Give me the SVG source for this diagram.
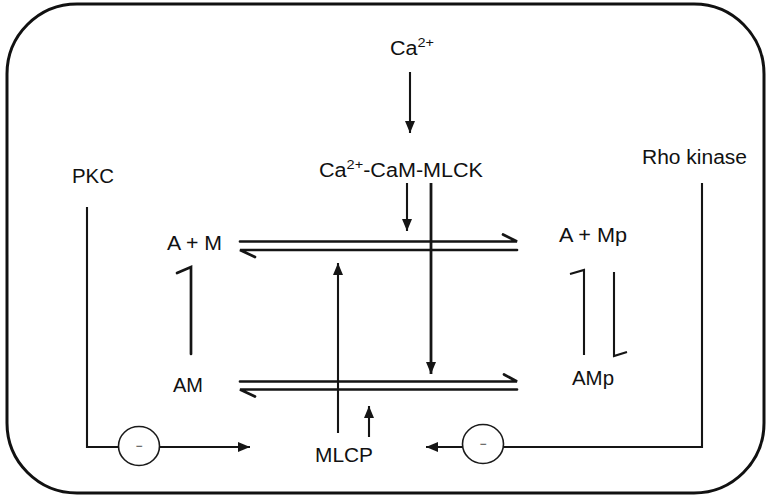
<svg xmlns="http://www.w3.org/2000/svg" width="766" height="498" viewBox="0 0 766 498">
<style>
text{font-family:"Liberation Sans",Arial,sans-serif;font-size:20px;fill:#111}
.sup{font-size:13.5px}
.ln{fill:none;stroke:#151515;stroke-width:2.1;stroke-linecap:butt}
.thk{stroke-width:2.8}
.eq{fill:none;stroke:#151515;stroke-width:2.7;stroke-linecap:round}
.circ{fill:#fff;stroke:#1a1a1a;stroke-width:1.6}
.minus{font-size:12px;fill:#333}
</style>
<defs>
<marker id="ah" viewBox="0 0 12 10" refX="12" refY="5" markerWidth="12" markerHeight="10" markerUnits="userSpaceOnUse" orient="auto">
<path d="M0,0 L12,5 L0,10 Z" fill="#151515"/>
</marker>
</defs>
<rect x="7" y="4" width="757" height="489" rx="70" ry="70" fill="#fff" stroke="#111" stroke-width="3"/>

<g id="nodes">
<g id="ca"><text x="390" y="55" textLength="44" lengthAdjust="spacingAndGlyphs">Ca<tspan class="sup" dy="-8">2+</tspan></text></g>
<g id="camlck"><text x="319" y="177" textLength="164" lengthAdjust="spacingAndGlyphs">Ca<tspan class="sup" dy="-8">2+</tspan><tspan dy="8">-CaM-MLCK</tspan></text></g>
<g id="pkc"><text x="72" y="183" textLength="42" lengthAdjust="spacingAndGlyphs">PKC</text></g>
<g id="rho"><text x="642" y="164" textLength="105" lengthAdjust="spacingAndGlyphs">Rho kinase</text></g>
<g id="am-free"><text x="167" y="250" textLength="55" lengthAdjust="spacingAndGlyphs">A + M</text></g>
<g id="amp-free"><text x="559" y="242" textLength="68" lengthAdjust="spacingAndGlyphs">A + Mp</text></g>
<g id="am"><text x="173" y="392" textLength="30" lengthAdjust="spacingAndGlyphs">AM</text></g>
<g id="amp"><text x="572" y="385" textLength="42" lengthAdjust="spacingAndGlyphs">AMp</text></g>
<g id="mlcp"><text x="315" y="462" textLength="58" lengthAdjust="spacingAndGlyphs">MLCP</text></g>
<g id="inh-left"><ellipse class="circ" cx="139" cy="446" rx="20.5" ry="19.5"/><text class="minus" x="139" y="450" text-anchor="middle">−</text></g>
<g id="inh-right"><ellipse class="circ" cx="483" cy="444" rx="20.5" ry="19.5"/><text class="minus" x="483" y="448" text-anchor="middle">−</text></g>
</g>

<g id="connectors">
<line class="ln" x1="410" y1="72" x2="410" y2="133" marker-end="url(#ah)"/>
<line class="ln" x1="407" y1="183" x2="407" y2="231" marker-end="url(#ah)"/>
<line class="ln thk" x1="431" y1="183" x2="431" y2="374" marker-end="url(#ah)"/>
<path class="eq" d="M240,241.5 H517 L503,234.5"/>
<path class="eq" d="M517,250 H240 L255,257"/>
<path class="eq" d="M240,381.5 H517 L504,374.5"/>
<path class="eq" d="M517,389.5 H240 L255,396.5"/>
<line class="ln" x1="338" y1="433" x2="338" y2="263" marker-end="url(#ah)"/>
<line class="ln" x1="369" y1="437" x2="369" y2="406" marker-end="url(#ah)"/>
<path class="eq" d="M177,273 L191,267 V354"/>
<path class="ln" d="M570,274 L584,270 V355"/>
<path class="ln" d="M614,272 V356 L627,352"/>
<path class="ln" d="M87,207 V447 H118.5"/>
<line class="ln" x1="159.5" y1="447" x2="250" y2="447" marker-end="url(#ah)"/>
<path class="ln" d="M702,183 V447 H503.5"/>
<line class="ln" x1="462.5" y1="447" x2="426" y2="447" marker-end="url(#ah)"/>
</g>
</svg>
